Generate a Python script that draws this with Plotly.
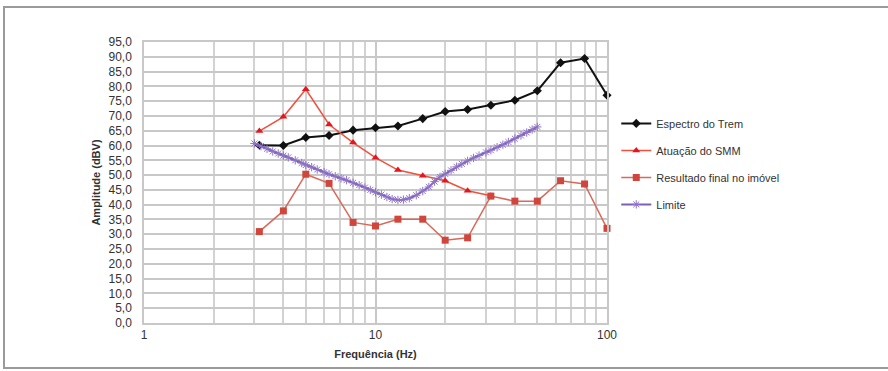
import plotly.graph_objects as go

# ---- data ----
freq = [3.15, 4, 5, 6.3, 8, 10, 12.5, 16, 20, 25, 31.5, 40, 50, 63, 80, 100]
espectro = [60.1, 60.0, 62.7, 63.4, 65.2, 66.0, 66.6, 69.1, 71.5, 72.2, 73.6, 75.3, 78.5, 88.0, 89.4, 77.0]

freq_smm = [3.15, 4, 5, 6.3, 8, 10, 12.5, 16, 20, 25, 31.5]
smm = [64.9, 69.7, 79.0, 67.1, 61.0, 55.9, 51.7, 49.8, 48.1, 44.7, 43.0]

resultado = [30.9, 37.9, 50.3, 47.2, 34.0, 32.8, 35.1, 35.1, 28.0, 28.8, 42.9, 41.2, 41.2, 48.1, 47.0, 32.0]

freq_lim = [3.0, 3.2, 3.4, 3.6, 3.8, 4.0, 4.2, 4.5, 4.8, 5.0, 5.3, 5.6, 6.0, 6.3, 6.7,
            7.1, 7.5, 8.0, 8.5, 9.0, 9.5, 10.0, 10.6, 11.2, 11.8, 12.5, 13.2, 14.0, 15.0,
            16.0, 17.0, 18.0, 19.0, 20.0, 21.2, 22.4, 23.6, 25.0, 26.5, 28.0, 30.0, 31.5,
            33.5, 35.5, 37.5, 40.0, 42.5, 45.0, 47.5, 50.0]
limite = [60.7, 59.8, 58.9, 58.0, 57.3, 56.6, 56.0, 55.0, 54.1, 53.4, 52.7, 51.9, 51.0, 50.3, 49.6,
          48.9, 48.3, 47.4, 46.6, 45.8, 45.0, 44.2, 43.4, 42.6, 41.9, 41.6, 41.7, 42.2, 43.2,
          44.6, 46.0, 47.8, 49.4, 50.4, 51.6, 52.8, 53.8, 54.8, 55.8, 56.6, 57.7, 58.4,
          59.4, 60.3, 61.2, 62.3, 63.4, 64.4, 65.4, 66.3]

names = ["Espectro do Trem", "Atuação do SMM", "Resultado final no imóvel", "Limite"]
yticks = list(range(0, 100, 5))

FONT = "Liberation Sans, Arial, sans-serif"

fig = go.Figure()
fig.add_trace(go.Scatter(x=freq, y=espectro, name=names[0], mode="lines+markers",
                         line=dict(color="#111111", width=2), cliponaxis=False,
                         marker=dict(symbol="diamond", size=7, color="#111111"),
                         legendgroup="a"))
fig.add_trace(go.Scatter(x=freq_smm, y=smm, name=names[1], mode="lines+markers",
                         line=dict(color="#f0503c", width=1.5), cliponaxis=False,
                         marker=dict(symbol="triangle-up", size=7, color="#e8141e"),
                         legendgroup="b"))
fig.add_trace(go.Scatter(x=freq, y=resultado, name=names[2], mode="lines+markers",
                         line=dict(color="#d9695a", width=1.5), cliponaxis=False,
                         marker=dict(symbol="square", size=7, color="#d0453c"),
                         legendgroup="c"))
fig.add_trace(go.Scatter(x=freq_lim, y=limite, name=names[3], mode="lines+markers",
                         line=dict(color="#7e5fb8", width=2), cliponaxis=False,
                         marker=dict(symbol="asterisk-open", size=7, color="#8f74c8",
                                     line=dict(width=1, color="#8f74c8")),
                         legendgroup="d"))

fig.update_layout(
    width=888, height=371,
    margin=dict(l=144, r=281, t=42, b=48),
    paper_bgcolor="white", plot_bgcolor="white",
    separators=",.",
    font=dict(family=FONT, size=11, color="#333333"),
    showlegend=True,
    legend=dict(x=1.02, y=0.762, xanchor="left", yanchor="top",
                traceorder="grouped", tracegroupgap=8,
                font=dict(size=11, color="#333333"), bgcolor="rgba(0,0,0,0)",
                itemwidth=30),
    xaxis=dict(type="log", range=[0, 2], dtick=1, showgrid=True,
               gridcolor="#c8c8c8", gridwidth=1.5, zeroline=False,
               showline=True, linecolor="#c8c8c8", linewidth=1.5, mirror=True,
               ticks="", tickfont=dict(size=12, color="#333333"),
               minor=dict(dtick="D1", showgrid=True, gridcolor="#d2d2d2", gridwidth=1.5, ticks=""),
               title=dict(text="<b>Frequência (Hz)</b>", font=dict(size=11, color="#333333"), standoff=9)),
    yaxis=dict(range=[0, 95], tickvals=yticks, tickformat=".1f", showgrid=True,
               gridcolor="#c8c8c8", gridwidth=1.5, zeroline=False,
               showline=True, linecolor="#c8c8c8", linewidth=1.5, mirror=True,
               ticks="", tickfont=dict(size=12, color="#333333"), ticklabelstandoff=8,
               title=dict(text="<b>Amplitude (dBV)</b>", font=dict(size=11, color="#333333"), standoff=6)),
    shapes=[dict(type="rect", xref="paper", yref="paper",
                 x0=(4 - 144) / 463, x1=(900 - 144) / 463,
                 y0=(323 - 368) / 281, y1=(323 - 7) / 281,
                 line=dict(color="#9a9a9a", width=2), layer="below")],
)

fig.write_html("out.html")
